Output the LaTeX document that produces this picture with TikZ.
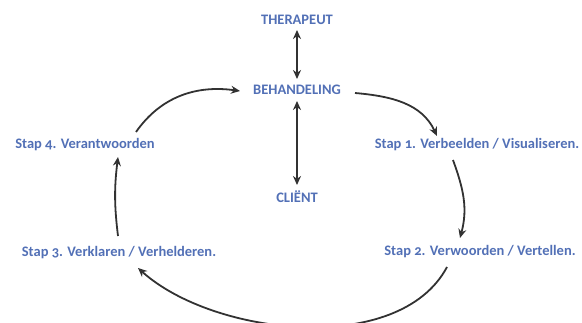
\documentclass[tikz,border=0pt]{standalone}
\usepackage{fontspec}
\setmainfont[Numbers=OldStyle]{Carlito}
\usepackage{tikz}
\usetikzlibrary{arrows.meta}
\definecolor{labelblue}{RGB}{82,112,182}
\definecolor{inkgray}{RGB}{50,50,50}

\begin{document}
\begin{tikzpicture}[x=1pt, y=1pt,
  lbl/.style={text=labelblue, font=\fontsize{14.5}{16}\selectfont\bfseries, inner sep=2pt},
  flow/.style={draw=inkgray, line width=1.8pt, -{Stealth[length=9pt, width=8pt]}},
  both/.style={draw=inkgray, line width=1.8pt, {Stealth[length=9pt, width=8pt]}-{Stealth[length=9pt, width=8pt]}}]
  \useasboundingbox (0,0) rectangle (582,322);
  % centre column
  \node[lbl] (ther) at (297,302) {THERAPEUT};
  \node[lbl] (beh) at (297,232) {BEHANDELING};
  \node[lbl] (cli) at (297,125) {CLIËNT};
  % the four steps
  \node[lbl] (sone) at (477,177) {Stap 1. Verbeelden / Visualiseren.};
  \node[lbl] (stwo) at (480,70) {Stap 2. Verwoorden / Vertellen.};
  \node[lbl] (sthree) at (119,69) {Stap 3. Verklaren / Verhelderen.};
  \node[lbl] (sfour) at (85,177) {Stap 4. Verantwoorden};
  \draw[both] ([yshift=-10pt]ther.center) -- ([yshift=11pt]beh.center);
  \draw[both] ([yshift=-11pt]beh.center) -- ([yshift=12pt]cli.center);
  % cycle
  \draw[flow] ([shift={(51,13)}]sfour.center) to[out=55, in=172] ([shift={(-57,-1)}]beh.center);
  \draw[flow] ([shift={(58,-3)}]beh.center) to[out=-5, in=115] ([shift={(-40,9)}]sone.center);
  \draw[flow] ([shift={(-24,-15)}]sone.center) to[out=-70, in=75] ([shift={(-20,14)}]stwo.center);
  \draw[flow] ([shift={(-33,-15)}]stwo.center) to[out=-118, in=-42, looseness=0.84] ([shift={(19,-15)}]sthree.center);
  \draw[flow] ([shift={(-1,17)}]sthree.center) to[out=97, in=-97] ([shift={(33,-12)}]sfour.center);
\end{tikzpicture}
\end{document}
